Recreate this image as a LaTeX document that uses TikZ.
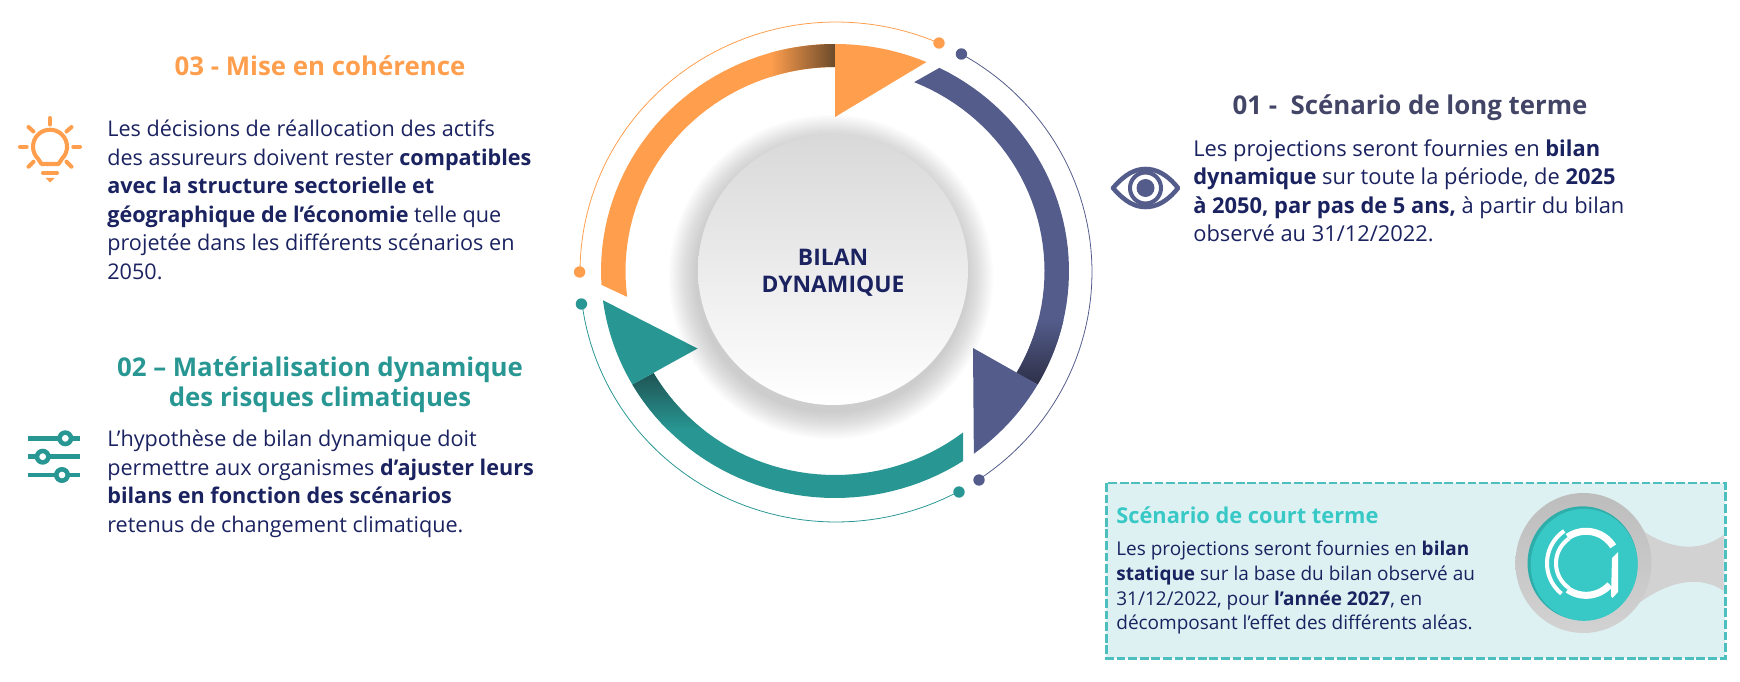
\documentclass[tikz,border=0pt]{standalone}
\usepackage{fontspec}
\setmainfont{Open Sans}
\usetikzlibrary{positioning}
\definecolor{orangedyn}{HTML}{FF9E4D}
\definecolor{orangedark}{HTML}{6B4A2B}
\definecolor{navydyn}{HTML}{535C8A}
\definecolor{navydark}{HTML}{2E3048}
\definecolor{tealdyn}{HTML}{289793}
\definecolor{tealdark}{HTML}{1F5454}
\definecolor{turquoise}{HTML}{38C9C6}
\definecolor{turquoisedark}{HTML}{2EAEAB}
\definecolor{boxfill}{HTML}{DEF1F2}
\definecolor{boxline}{HTML}{4DBFBF}
\definecolor{inkblue}{HTML}{1A2260}
\definecolor{titlenavy}{HTML}{434566}
\definecolor{lensgrey}{HTML}{D2D2D2}
% outer edge, inner edge of the thick ring, thin ring, logo
\newcommand{\ringo}[2]{plot[domain=#1:#2,samples=40] ({835+234*cos(\x)},{271+227*sin(\x)})}
\newcommand{\ringi}[2]{-- plot[domain=#1:#2,samples=40] ({835+209.5*cos(\x)},{271+204*sin(\x)})}
\newcommand{\ringt}[2]{plot[domain=#1:#2,samples=60] ({836+256*cos(\x)},{272+250*sin(\x)})}
\newcommand{\logoarc}[3]{plot[domain=#2:#3,samples=30] ({1586+#1*cos(\x)},{563.3+#1*sin(\x)})}
\tikzset{
  bodytext/.style={anchor=north west,align=left,inner sep=0pt,text=inkblue,font=\fontsize{12.3}{16.2}\selectfont},
  smalltext/.style={anchor=north west,align=left,inner sep=0pt,text=inkblue,font=\fontsize{10.8}{14}\selectfont},
  titletext/.style={align=center,inner sep=0pt,font=\fontsize{14.7}{17}\selectfont\bfseries},
  thinring/.style={line width=0.45pt},
  icon/.style={line width=#1,line cap=round,line join=round},
}
\begin{document}
\begin{tikzpicture}[x=0.02cm,y=-0.02cm]
\useasboundingbox (0,0) rectangle (1740,682);
% Short term box
\draw[fill=boxfill,draw=boxline,line width=1.7pt,dash pattern=on 5pt off 1.6pt] (1106,483) rectangle (1725,658);
\fill[lensgrey] (1630,520) .. controls (1650,540) and (1690,560) .. (1723.5,535) -- (1723.5,590.7) .. controls (1695,572) and (1660,585) .. (1630,610) -- cycle;
\shade[top color=lensgrey!90!black,bottom color=lensgrey] (1583.4,563) ellipse (68 and 70);
\fill[turquoisedark] (1582.5,563.3) ellipse (55 and 57);
\fill[turquoise] (1584.2,564.8) ellipse (53.5 and 56);
\draw[white,line width=4pt] \logoarc{32}{-32}{-125};
\draw[white,line width=4pt] \logoarc{32}{125}{42};
\draw[white,line width=2.3pt] \logoarc{30}{125}{235};
\draw[white,line width=2.3pt] \logoarc{39}{129}{236};
\fill[white] (1612,558) -- (1618,552) -- (1618,592) -- (1612.5,598) -- (1611,596) -- cycle;
% Orange thick arc
\fill[orangedyn] \ringo{176.5}{270} \ringi{270}{172.7} -- cycle;
\shade[left color=orangedyn,right color=orangedark] \ringo{254}{270} \ringi{270}{252.2} -- cycle;
\fill[orangedyn] \ringo{270}{293} -- (835,117) -- cycle;
% Navy thick arc
\fill[navydyn] \ringo{-63.5}{30} \ringi{30}{-67.8} -- cycle;
\shade[top color=navydyn,bottom color=navydark] \ringo{12.5}{30} \ringi{30}{13.9} -- cycle;
\fill[navydyn] \ringo{30}{53.6} -- (973,348) -- cycle;
% Teal thick arc
\fill[tealdyn] \ringo{56.8}{150} \ringi{150}{52.3} -- cycle;
\shade[top color=tealdark,bottom color=tealdyn] \ringo{135.5}{150} \ringi{150}{128.8} -- cycle;
\fill[tealdyn] \ringo{150}{172.6} -- (697.5,348.5) -- cycle;
% Thin arcs
\draw[thinring,orangedyn] \ringt{180}{293.7};
\draw[thinring,navydyn] \ringt{-60.8}{56};
\draw[thinring,tealdyn] \ringt{61.5}{172.7};
\fill[orangedyn] (579.6,272) circle (5.7) (939,43) circle (5.7);
\fill[navydyn] (961.4,54) circle (5.7) (979,480) circle (5.7);
\fill[tealdyn] (959,492) circle (5.7) (581.4,304) circle (5.7);
% Central disc
\foreach \r in {136,138,...,162}
  \fill[black,opacity=0.016] (831,277) circle (\r);
\shade[top color=black!15,middle color=black!4,bottom color=white] (833,270) circle (135);
\node[align=center,inner sep=0pt,text=inkblue,font=\fontsize{13}{15.4}\selectfont\bfseries] (centre) at (833,273) {BILAN\\DYNAMIQUE};
% Texts
\node[titletext,text=orangedyn] (title03) at (320,66) {03 - Mise en cohérence};
\node[bodytext] (text03) at (107,120) {Les décisions de réallocation des actifs\\des assureurs doivent rester \textbf{compatibles}\\\textbf{avec la structure sectorielle et}\\\textbf{géographique de l’économie} telle que\\projetée dans les différents scénarios en\\2050.};
\node[titletext,text=tealdyn] (title02) at (320,385) {02 – Matérialisation dynamique\\des risques climatiques};
\node[bodytext] (text02) at (107,430) {L’hypothèse de bilan dynamique doit\\permettre aux organismes \textbf{d’ajuster leurs}\\\textbf{bilans en fonction des scénarios}\\retenus de changement climatique.};
\node[titletext,text=titlenavy] (title01) at (1410,108) {01 -\ \ Scénario de long terme};
\node[bodytext,font=\fontsize{12.45}{16.2}\selectfont] (text01) at (1193,139) {Les projections seront fournies en \textbf{bilan}\\\textbf{dynamique} sur toute la période, de \textbf{2025}\\\textbf{à 2050, par pas de 5 ans,} à partir du bilan\\observé au 31/12/2022.};
\node[anchor=west,inner sep=0pt,text=turquoise,font=\fontsize{12.4}{14}\selectfont\bfseries] (titleshort) at (1116,515) {Scénario de court terme};
\node[smalltext] (textshort) at (1116,541) {Les projections seront fournies en \textbf{bilan}\\\textbf{statique} sur la base du bilan observé au\\31/12/2022, pour \textbf{l’année 2027}, en\\décomposant l’effet des différents aléas.};
% Bulb icon
\draw[icon=2.3pt,orangedyn] (38,158.7) arc[start angle=225,end angle=-45,radius=0.34cm] -- (58.5,164) -- (41.5,164) -- cycle;
\draw[icon=2.3pt,orangedyn] (43,172.7) -- (57,172.7);
\fill[orangedyn] (45.5,178) -- (54.5,178) -- (50,182.5) -- cycle;
\foreach \a/\b/\c/\d in {50/118/50/124.5,28.5/127/33.5/131.5,71.5/127/66.5/131.5,20/146.7/26.7/146.7,73.3/146.7/80/146.7,28.5/166.7/33.5/161.7,71.5/166.7/66.5/161.7}
  \draw[icon=2.3pt,orangedyn] (\a,\b) -- (\c,\d);
% Sliders icon
\foreach \y/\k in {438.3/65.3,456.7/42.7,475/62}{
  \draw[tealdyn,line width=2.6pt] (28,\y) -- (80,\y);
  \draw[tealdyn,line width=2.6pt,fill=white] (\k,\y) circle (5.7);
}
% Eye icon
\draw[navydyn,line width=2.6pt,line join=round] (1113,188) .. controls (1125,174) and (1135,169) .. (1145.5,169) .. controls (1156,169) and (1167,174) .. (1178,188) .. controls (1167,202) and (1156,207) .. (1145.5,207) .. controls (1135,207) and (1125,202) .. (1113,188) -- cycle;
\draw[navydyn,line width=2.3pt] (1145.5,188) circle (15.5);
\fill[navydyn] (1145.5,188) circle (9);
\end{tikzpicture}
\end{document}
